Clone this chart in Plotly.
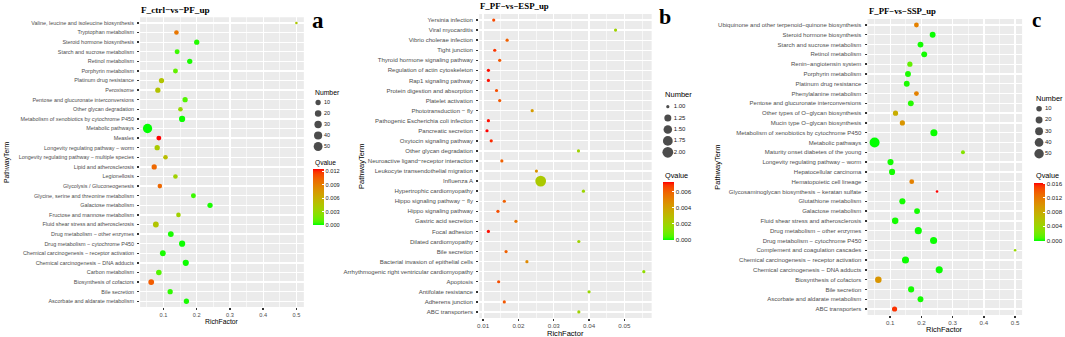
import numpy as np
import plotly.graph_objects as go

W, H = 1065, 337

# ---------------- Panel a : F_ctrl-vs-PF_up (rows listed top to bottom) ----------------
terms_a = [
    "Valine, leucine and isoleucine biosynthesis",
    "Tryptophan metabolism",
    "Steroid hormone biosynthesis",
    "Starch and sucrose metabolism",
    "Retinol metabolism",
    "Porphyrin metabolism",
    "Platinum drug resistance",
    "Peroxisome",
    "Pentose and glucuronate interconversions",
    "Other glycan degradation",
    "Metabolism of xenobiotics by cytochrome P450",
    "Metabolic pathways",
    "Measles",
    "Longevity regulating pathway − worm",
    "Longevity regulating pathway − multiple species",
    "Lipid and atherosclerosis",
    "Legionellosis",
    "Glycolysis / Gluconeogenesis",
    "Glycine, serine and threonine metabolism",
    "Galactose metabolism",
    "Fructose and mannose metabolism",
    "Fluid shear stress and atherosclerosis",
    "Drug metabolism − other enzymes",
    "Drug metabolism − cytochrome P450",
    "Chemical carcinogenesis − receptor activation",
    "Chemical carcinogenesis − DNA adducts",
    "Carbon metabolism",
    "Biosynthesis of cofactors",
    "Bile secretion",
    "Ascorbate and aldarate metabolism",
]
rich_a = [0.500, 0.139, 0.200, 0.141, 0.179, 0.136, 0.094, 0.083, 0.165, 0.151,
          0.156, 0.052, 0.086, 0.081, 0.106, 0.072, 0.136, 0.089, 0.190, 0.240,
          0.145, 0.077, 0.122, 0.156, 0.098, 0.167, 0.086, 0.063, 0.120, 0.169]
num_a = [1, 6, 10, 8, 10, 8, 10, 10, 10, 6,
         17, 57, 8, 10, 6, 10, 6, 6, 8, 10,
         6, 14, 14, 17, 14, 17, 12, 14, 10, 10]
q_a = [0.0043, 0.0093, 0.0003, 0.0005, 0.0002, 0.0012, 0.0045, 0.0046, 0.0008, 0.0030,
       0.0001, 0.00001, 0.0124, 0.0040, 0.0050, 0.0100, 0.0035, 0.0100, 0.0005, 0.0002,
       0.0035, 0.0045, 0.0002, 0.0001, 0.0002, 0.0001, 0.0008, 0.0105, 0.0004, 0.0002]
size_breaks_a = [10, 20, 30, 40, 50]
q_ticks_a = [0.000, 0.003, 0.006, 0.009, 0.012]
x_ticks_a = [0.1, 0.2, 0.3, 0.4, 0.5]

# ---------------- Panel b : F_PF-vs-ESP_up ----------------
terms_b = [
    "Yersinia infection",
    "Viral myocarditis",
    "Vibrio cholerae infection",
    "Tight junction",
    "Thyroid hormone signaling pathway",
    "Regulation of actin cytoskeleton",
    "Rap1 signaling pathway",
    "Protein digestion and absorption",
    "Platelet activation",
    "Phototransduction − fly",
    "Pathogenic Escherichia coli infection",
    "Pancreatic secretion",
    "Oxytocin signaling pathway",
    "Other glycan degradation",
    "Neuroactive ligand−receptor interaction",
    "Leukocyte transendothelial migration",
    "Influenza A",
    "Hypertrophic cardiomyopathy",
    "Hippo signaling pathway − fly",
    "Hippo signaling pathway",
    "Gastric acid secretion",
    "Focal adhesion",
    "Dilated cardiomyopathy",
    "Bile secretion",
    "Bacterial invasion of epithelial cells",
    "Arrhythmogenic right ventricular cardiomyopathy",
    "Apoptosis",
    "Antifolate resistance",
    "Adherens junction",
    "ABC transporters",
]
rich_b = [0.0130, 0.0475, 0.0168, 0.0133, 0.0147, 0.0115, 0.0115, 0.0138, 0.0147, 0.0239,
          0.0115, 0.0111, 0.0123, 0.0370, 0.0153, 0.0251, 0.0263, 0.0384, 0.0160, 0.0142,
          0.0193, 0.0115, 0.0371, 0.0165, 0.0224, 0.0555, 0.0144, 0.0400, 0.0160, 0.0371]
num_b = [1, 1, 1, 1, 1, 1, 1, 1, 1, 1,
         1, 1, 1, 1, 1, 1, 2, 1, 1, 1,
         1, 1, 1, 1, 1, 1, 1, 1, 1, 1]
q_b = [0.0065, 0.0020, 0.0060, 0.0068, 0.0062, 0.0071, 0.0071, 0.0064, 0.0062, 0.0042,
       0.0071, 0.0072, 0.0069, 0.0020, 0.0060, 0.0045, 0.0024, 0.0019, 0.0060, 0.0064,
       0.0055, 0.0071, 0.0020, 0.0060, 0.0048, 0.0016, 0.0064, 0.0018, 0.0062, 0.0020]
size_breaks_b = [1.00, 1.25, 1.50, 1.75, 2.00]
q_ticks_b = [0.000, 0.002, 0.004, 0.006]
x_ticks_b = [0.01, 0.02, 0.03, 0.04, 0.05]

# ---------------- Panel c : F_PF-vs-SSP_up ----------------
terms_c = [
    "Ubiquinone and other terpenoid−quinone biosynthesis",
    "Steroid hormone biosynthesis",
    "Starch and sucrose metabolism",
    "Retinol metabolism",
    "Renin−angiotensin system",
    "Porphyrin metabolism",
    "Platinum drug resistance",
    "Phenylalanine metabolism",
    "Pentose and glucuronate interconversions",
    "Other types of O−glycan biosynthesis",
    "Mucin type O−glycan biosynthesis",
    "Metabolism of xenobiotics by cytochrome P450",
    "Metabolic pathways",
    "Maturity onset diabetes of the young",
    "Longevity regulating pathway − worm",
    "Hepatocellular carcinoma",
    "Hematopoietic cell lineage",
    "Glycosaminoglycan biosynthesis − keratan sulfate",
    "Glutathione metabolism",
    "Galactose metabolism",
    "Fluid shear stress and atherosclerosis",
    "Drug metabolism − other enzymes",
    "Drug metabolism − cytochrome P450",
    "Complement and coagulation cascades",
    "Chemical carcinogenesis − receptor activation",
    "Chemical carcinogenesis − DNA adducts",
    "Biosynthesis of cofactors",
    "Bile secretion",
    "Ascorbate and aldarate metabolism",
    "ABC transporters",
]
rich_c = [0.184, 0.236, 0.197, 0.209, 0.163, 0.157, 0.153, 0.184, 0.166, 0.117,
          0.139, 0.240, 0.050, 0.333, 0.101, 0.106, 0.169, 0.250, 0.139, 0.186,
          0.116, 0.190, 0.239, 0.500, 0.149, 0.257, 0.062, 0.167, 0.197, 0.114]
num_c = [6, 12, 12, 12, 8, 12, 12, 6, 12, 8,
         8, 22, 58, 3, 14, 14, 6, 1, 14, 12,
         17, 22, 22, 1, 22, 22, 17, 14, 12, 8]
q_c = [0.0115, 0.0001, 0.0002, 0.0002, 0.0015, 0.0003, 0.0003, 0.0115, 0.0004, 0.0080,
       0.0100, 0.0001, 0.00001, 0.0030, 0.0002, 0.0002, 0.0115, 0.0163, 0.0002, 0.0002,
       0.0002, 0.0001, 0.0001, 0.0040, 0.0001, 0.0001, 0.0100, 0.0002, 0.0002, 0.0155]
size_breaks_c = [10, 20, 30, 40, 50]
q_ticks_c = [0.000, 0.004, 0.008, 0.012, 0.016]
x_ticks_c = [0.1, 0.2, 0.3, 0.4, 0.5]


# ---------------- colour scale: green -> red interpolated in CIE Lab ----------------
M = np.array([[0.4124564, 0.3575761, 0.1804375],
              [0.2126729, 0.7151522, 0.0721750],
              [0.0193339, 0.1191920, 0.9503041]])
WP = np.array([0.95047, 1.0, 1.08883])


def rgb2lab(rgb):
    c = np.array(rgb, float) / 255
    lin = np.where(c <= 0.04045, c / 12.92, ((c + 0.055) / 1.055) ** 2.4)
    t = (M @ lin) / WP
    d = 6 / 29
    f = np.where(t > d ** 3, np.cbrt(t), t / (3 * d * d) + 4 / 29)
    return np.array([116 * f[1] - 16, 500 * (f[0] - f[1]), 200 * (f[1] - f[2])])


def lab2rgb(lab):
    L, a, b = lab
    fy_ = (L + 16) / 116
    f = np.array([fy_ + a / 500, fy_, fy_ - b / 200])
    d = 6 / 29
    t = np.where(f > d, f ** 3, 3 * d * d * (f - 4 / 29))
    lin = np.clip(np.linalg.inv(M) @ (t * WP), 0, 1)
    c = np.where(lin <= 0.0031308, 12.92 * lin, 1.055 * lin ** (1 / 2.4) - 0.055)
    r, g, bb = (int(round(v * 255)) for v in np.clip(c, 0, 1))
    return f"rgb({r},{g},{bb})"


lab_lo, lab_hi = rgb2lab((0, 255, 0)), rgb2lab((255, 0, 0))
colorscale = [[i / 20, lab2rgb(lab_lo + (lab_hi - lab_lo) * i / 20)] for i in range(21)]

SANS = "Liberation Sans, Arial, sans-serif"
SERIF = "Liberation Serif, Times New Roman, serif"


def fx(px):
    return px / W


def fy(py):
    return 1 - py / H


def diam(n, nmin, nmax, dmin, dmax):
    n = np.asarray(n, float)
    return dmin + (dmax - dmin) * np.sqrt((n - nmin) / (nmax - nmin))


panels = [
    dict(terms=terms_a, rich=rich_a, num=num_a, q=q_a, breaks=size_breaks_a, qticks=q_ticks_a,
         xticks=x_ticks_a, title="F_ctrl−vs−PF_up", letter="a", xdom=(138.5, 302.7), ydom=(17.2, 307.0),
         minor=0.05, fmt="{:.1f}", dmin=2.6, dmax=9.3, blabel="{:.0f}", fs=1.0,
         title_fs=9.2, letter_fs=23,
         title_xy=(137, 10), letter_xy=(317, 20), xlab_y=321, ylab_x=5.0,
         leg_x=312, num_title_y=92, leg_y=(97, 152.0, 55, 5),
         cb_top=169.3, cb_len=56, q_title_y=163),
    dict(terms=terms_b, rich=rich_b, num=num_b, q=q_b, breaks=size_breaks_b, qticks=q_ticks_b,
         xticks=x_ticks_b, title="F_PF−vs−ESP_up", letter="b", xdom=(478.5, 651.5), ydom=(14.0, 318.0),
         minor=0.005, fmt="{:.2f}", dmin=3.2, dmax=10.8, blabel="{:.2f}", fs=1.11,
         title_fs=8.8, letter_fs=22,
         title_xy=(477, 6), letter_xy=(665, 17), xlab_y=333, ylab_x=360,
         leg_x=662.7, num_title_y=94, leg_y=(101, 158.0, 2.125, 0.875),
         cb_top=182, cb_len=58, q_title_y=175.5),
    dict(terms=terms_c, rich=rich_c, num=num_c, q=q_c, breaks=size_breaks_c, qticks=q_ticks_c,
         xticks=x_ticks_c, title="F_PF−vs−SSP_up", letter="c", xdom=(868.0, 1023.0), ydom=(19.1, 314.9),
         minor=0.05, fmt="{:.1f}", dmin=2.6, dmax=10.0, blabel="{:.0f}", fs=1.1,
         title_fs=8.7, letter_fs=21,
         title_xy=(867, 10.7), letter_xy=(1037, 20), xlab_y=329, ylab_x=716.7,
         leg_x=1035, num_title_y=98, leg_y=(103.1, 159.35, 55, 5),
         cb_top=182.5, cb_len=57.5, q_title_y=175.5),
]

fig = go.Figure()
layout = dict(width=W, height=H, margin=dict(l=0, r=0, t=0, b=0),
              paper_bgcolor="white", plot_bgcolor="white", showlegend=False,
              font=dict(family=SANS, color="black"))
annotations, shapes = [], []

for i, p in enumerate(panels):
    k = i + 1
    s = p["fs"]
    xa, ya = f"x{k}" if k > 1 else "x", f"y{k}" if k > 1 else "y"
    xkey, ykey = f"xaxis{k}" if k > 1 else "xaxis", f"yaxis{k}" if k > 1 else "yaxis"
    ca = f"coloraxis{k}" if k > 1 else "coloraxis"
    nmin, nmax = min(p["num"]), max(p["num"])

    fig.add_trace(go.Scatter(
        x=p["rich"], y=p["terms"], mode="markers", xaxis=xa, yaxis=ya,
        marker=dict(size=diam(p["num"], nmin, nmax, p["dmin"], p["dmax"]),
                    color=p["q"], coloraxis=ca, line=dict(width=0), opacity=1),
        hoverinfo="skip"))

    lo, hi = min(p["rich"]), max(p["rich"])
    wdt = hi - lo
    layout[xkey] = dict(
        domain=[fx(p["xdom"][0]), fx(p["xdom"][1])], anchor=ya,
        range=[lo - 0.05 * wdt, hi + 0.05 * wdt],
        tickvals=p["xticks"], ticktext=[p["fmt"].format(v) for v in p["xticks"]],
        ticks="outside", ticklen=2, tickwidth=1.4, tickcolor="#333333",
        tickfont=dict(size=5.6 * s, color="#4D4D4D", family=SANS),
        showgrid=True, gridcolor="white", gridwidth=1.3, zeroline=False, showline=False,
        minor=dict(dtick=p["minor"], tick0=0, showgrid=True, gridcolor="white", gridwidth=0.6, ticks=""),
    )
    n = len(p["terms"])
    layout[ykey] = dict(
        domain=[fy(p["ydom"][1]), fy(p["ydom"][0])], anchor=xa,
        type="category", categoryorder="array", categoryarray=p["terms"][::-1],
        range=[-0.6, n - 0.4],
        ticks="outside", ticklen=2, tickwidth=1.4, tickcolor="#333333", ticklabelstandoff=2,
        tickfont=dict(size=5.45 * s, color="#4D4D4D", family=SANS),
        showgrid=True, gridcolor="white", gridwidth=1.3, zeroline=False, showline=False,
    )
    shapes.append(dict(type="rect", xref=f"{xa} domain", yref=f"{ya} domain", x0=0, x1=1, y0=0, y1=1,
                       fillcolor="#EBEBEB", line=dict(width=0), layer="below"))

    layout[ca] = dict(
        colorscale=colorscale, cmin=0, cmax=max(p["q"]),
        colorbar=dict(x=fx(p["leg_x"]), xanchor="left", y=fy(p["cb_top"]), yanchor="top",
                      len=p["cb_len"], lenmode="pixels", thickness=11, thicknessmode="pixels",
                      xpad=0, ypad=0, outlinewidth=0, ticks="inside", tickcolor="white", ticklen=2,
                      tickwidth=1, tickvals=p["qticks"], ticktext=[f"{v:.3f}" for v in p["qticks"]],
                      tickfont=dict(size=5.6 * s, color="#1A1A1A", family=SANS)))

    # size legend on its own small axes
    lk = k + 3
    lxa, lya = f"x{lk}", f"y{lk}"
    ly0, ly1, r0, r1 = p["leg_y"]
    layout[f"xaxis{lk}"] = dict(domain=[fx(p["leg_x"]), fx(p["leg_x"] + 28)], range=[-0.5, 2.3],
                                visible=False, anchor=lya, fixedrange=True)
    layout[f"yaxis{lk}"] = dict(domain=[fy(ly1), fy(ly0)], range=[r0, r1],
                                visible=False, anchor=lxa, fixedrange=True)
    fig.add_trace(go.Scatter(
        x=[0] * len(p["breaks"]), y=p["breaks"], mode="markers", xaxis=lxa, yaxis=lya,
        marker=dict(size=diam(p["breaks"], nmin, nmax, p["dmin"], p["dmax"]), color="black",
                    line=dict(width=0)), hoverinfo="skip", cliponaxis=False))
    fig.add_trace(go.Scatter(
        x=[0.6] * len(p["breaks"]), y=p["breaks"], mode="text", xaxis=lxa, yaxis=lya,
        text=[p["blabel"].format(v) for v in p["breaks"]], textposition="middle right",
        textfont=dict(size=5.4 * s, color="#1A1A1A", family=SANS), hoverinfo="skip", cliponaxis=False))

    # texts
    annotations += [
        dict(text=f"<b>{p['title']}</b>", x=fx(p["title_xy"][0]), y=fy(p["title_xy"][1]),
             xref="paper", yref="paper", xanchor="left", yanchor="middle", showarrow=False,
             font=dict(family=SERIF, size=p["title_fs"], color="black")),
        dict(text=f"<b>{p['letter']}</b>", x=fx(p["letter_xy"][0]), y=fy(p["letter_xy"][1]),
             xref="paper", yref="paper", xanchor="center", yanchor="middle", showarrow=False,
             font=dict(family=SERIF, size=p["letter_fs"], color="black")),
        dict(text="RichFactor", x=fx((p["xdom"][0] + p["xdom"][1]) / 2), y=fy(p["xlab_y"]),
             xref="paper", yref="paper", xanchor="center", yanchor="middle", showarrow=False,
             font=dict(family=SANS, size=6.8 * s, color="black")),
        dict(text="PathwayTerm", x=fx(p["ylab_x"]), y=fy((p["ydom"][0] + p["ydom"][1]) / 2),
             xref="paper", yref="paper", xanchor="center", yanchor="middle", showarrow=False,
             textangle=-90, font=dict(family=SANS, size=6.8 * s, color="black")),
        dict(text="Number", x=fx(p["leg_x"]), y=fy(p["num_title_y"]),
             xref="paper", yref="paper", xanchor="left", yanchor="middle", showarrow=False,
             font=dict(family=SANS, size=6.8 * s, color="black")),
        dict(text="Qvalue", x=fx(p["leg_x"]), y=fy(p["q_title_y"]),
             xref="paper", yref="paper", xanchor="left", yanchor="middle", showarrow=False,
             font=dict(family=SANS, size=6.6 * s, color="black")),
    ]

layout["annotations"] = annotations
layout["shapes"] = shapes
fig.update_layout(**layout)
fig.write_html("out.html", config={"displayModeBar": False, "staticPlot": True},
               post_script="document.body.style.margin='0';document.body.style.padding='0';")
